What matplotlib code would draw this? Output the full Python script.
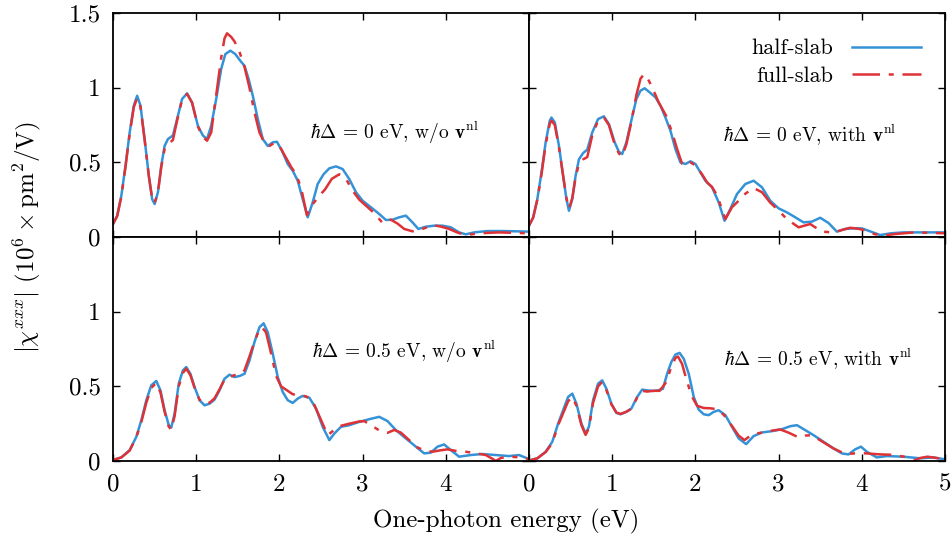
import numpy as np
import matplotlib
matplotlib.use('Agg')
import matplotlib.pyplot as plt
from matplotlib.ticker import FormatStrFormatter

plt.rcParams['font.family'] = 'cmr10'
plt.rcParams['mathtext.fontset'] = 'cm'
plt.rcParams['axes.formatter.use_mathtext'] = True

BLUE = '#3592d6'
RED = '#de3236'

# top-left: hbar Delta = 0 eV, w/o v^nl
tl_half_x = [0, 0.05, 0.1, 0.15, 0.2, 0.25, 0.29, 0.33, 0.38, 0.43, 0.47, 0.5, 0.54, 0.58, 0.62, 0.66, 0.72, 0.77, 0.83, 0.89, 0.95, 1.02, 1.08, 1.13, 1.18, 1.24, 1.3, 1.35, 1.41, 1.47, 1.53, 1.58, 1.63, 1.68, 1.74, 1.8, 1.86, 1.92, 1.97, 2.03, 2.1, 2.16, 2.22, 2.28, 2.34, 2.4, 2.46, 2.53, 2.6, 2.68, 2.76, 2.84, 2.92, 3.0, 3.1, 3.2, 3.28, 3.36, 3.44, 3.52, 3.6, 3.67, 3.76, 3.86, 3.96, 4.06, 4.16, 4.24, 4.34, 4.5, 4.7, 5.0]
tl_half_y = [0.087, 0.143, 0.277, 0.478, 0.70, 0.88, 0.946, 0.88, 0.656, 0.41, 0.254, 0.221, 0.30, 0.478, 0.61, 0.656, 0.68, 0.79, 0.924, 0.962, 0.90, 0.745, 0.68, 0.656, 0.745, 0.924, 1.125, 1.225, 1.248, 1.225, 1.18, 1.147, 1.058, 0.946, 0.79, 0.656, 0.61, 0.634, 0.638, 0.578, 0.489, 0.444, 0.377, 0.254, 0.132, 0.232, 0.355, 0.42, 0.46, 0.473, 0.455, 0.388, 0.30, 0.243, 0.199, 0.154, 0.114, 0.116, 0.132, 0.143, 0.098, 0.054, 0.069, 0.076, 0.076, 0.065, 0.031, 0.018, 0.031, 0.04, 0.04, 0.036]
tl_full_x = [0, 0.05, 0.1, 0.15, 0.2, 0.25, 0.29, 0.33, 0.38, 0.43, 0.47, 0.5, 0.54, 0.58, 0.62, 0.66, 0.72, 0.77, 0.83, 0.89, 0.95, 1.02, 1.08, 1.13, 1.18, 1.24, 1.3, 1.34, 1.37, 1.42, 1.46, 1.52, 1.58, 1.64, 1.7, 1.76, 1.82, 1.88, 1.94, 2.0, 2.08, 2.14, 2.2, 2.26, 2.33, 2.4, 2.47, 2.55, 2.63, 2.72, 2.8, 2.88, 2.96, 3.04, 3.14, 3.24, 3.34, 3.42, 3.5, 3.6, 3.7, 3.84, 3.94, 4.04, 4.14, 4.24, 4.4, 4.64, 5.0]
tl_full_y = [0.087, 0.14, 0.27, 0.47, 0.69, 0.87, 0.93, 0.87, 0.65, 0.41, 0.26, 0.228, 0.30, 0.47, 0.59, 0.62, 0.65, 0.78, 0.92, 0.958, 0.90, 0.74, 0.67, 0.645, 0.70, 0.95, 1.2, 1.33, 1.364, 1.34, 1.31, 1.24, 1.14, 1.0, 0.835, 0.70, 0.63, 0.61, 0.63, 0.61, 0.53, 0.47, 0.42, 0.33, 0.147, 0.22, 0.27, 0.32, 0.39, 0.42, 0.39, 0.31, 0.25, 0.21, 0.16, 0.094, 0.116, 0.09, 0.054, 0.038, 0.05, 0.08, 0.07, 0.054, 0.03, 0.013, 0.025, 0.031, 0.025]

# top-right: hbar Delta = 0 eV, with v^nl
tr_half_x = [0, 0.05, 0.1, 0.15, 0.2, 0.25, 0.27, 0.31, 0.36, 0.41, 0.45, 0.48, 0.52, 0.56, 0.6, 0.65, 0.7, 0.76, 0.83, 0.9, 0.96, 1.03, 1.08, 1.12, 1.17, 1.23, 1.29, 1.34, 1.39, 1.45, 1.52, 1.58, 1.64, 1.7, 1.76, 1.82, 1.88, 1.94, 2.0, 2.06, 2.12, 2.2, 2.28, 2.35, 2.42, 2.5, 2.6, 2.7, 2.8, 2.9, 3.0, 3.1, 3.2, 3.3, 3.4, 3.5, 3.6, 3.7, 3.8, 3.9, 4.0, 4.1, 4.22, 4.35, 4.5, 4.75, 5.0]
tr_half_y = [0.076, 0.132, 0.254, 0.433, 0.634, 0.78, 0.80, 0.767, 0.61, 0.41, 0.254, 0.176, 0.254, 0.41, 0.52, 0.562, 0.585, 0.70, 0.79, 0.808, 0.757, 0.634, 0.571, 0.556, 0.634, 0.78, 0.924, 0.98, 0.996, 0.969, 0.935, 0.88, 0.80, 0.712, 0.589, 0.50, 0.489, 0.507, 0.489, 0.433, 0.377, 0.333, 0.232, 0.109, 0.188, 0.288, 0.355, 0.377, 0.333, 0.243, 0.192, 0.165, 0.132, 0.098, 0.103, 0.129, 0.094, 0.036, 0.054, 0.058, 0.058, 0.038, 0.013, 0.025, 0.031, 0.031, 0.031]
tr_full_x = [0, 0.05, 0.1, 0.15, 0.2, 0.25, 0.27, 0.31, 0.36, 0.41, 0.45, 0.48, 0.52, 0.56, 0.6, 0.65, 0.7, 0.76, 0.83, 0.9, 0.96, 1.03, 1.08, 1.12, 1.17, 1.23, 1.29, 1.34, 1.38, 1.42, 1.49, 1.56, 1.65, 1.72, 1.78, 1.84, 1.88, 1.94, 2.0, 2.08, 2.14, 2.2, 2.26, 2.36, 2.44, 2.5, 2.6, 2.7, 2.8, 2.9, 2.98, 3.1, 3.24, 3.38, 3.52, 3.66, 3.78, 3.86, 3.96, 4.06, 4.15, 4.25, 4.4, 4.63, 5.0]
tr_full_y = [0.076, 0.13, 0.25, 0.42, 0.62, 0.76, 0.78, 0.75, 0.60, 0.41, 0.26, 0.19, 0.26, 0.40, 0.49, 0.52, 0.535, 0.68, 0.78, 0.80, 0.75, 0.62, 0.56, 0.54, 0.62, 0.77, 0.95, 1.06, 1.09, 1.07, 0.99, 0.9, 0.81, 0.70, 0.59, 0.49, 0.48, 0.50, 0.48, 0.42, 0.366, 0.335, 0.28, 0.12, 0.2, 0.232, 0.29, 0.328, 0.3, 0.23, 0.188, 0.12, 0.065, 0.087, 0.036, 0.031, 0.05, 0.062, 0.055, 0.042, 0.02, 0.009, 0.02, 0.031, 0.025]

# bottom-left: hbar Delta = 0.5 eV, w/o v^nl
bl_half_x = [0, 0.1, 0.2, 0.28, 0.34, 0.4, 0.46, 0.52, 0.57, 0.62, 0.67, 0.7, 0.74, 0.79, 0.84, 0.88, 0.93, 0.98, 1.04, 1.1, 1.16, 1.22, 1.28, 1.34, 1.4, 1.46, 1.52, 1.58, 1.64, 1.7, 1.76, 1.81, 1.86, 1.92, 1.98, 2.04, 2.1, 2.16, 2.22, 2.28, 2.36, 2.44, 2.52, 2.6, 2.66, 2.74, 2.84, 2.96, 3.08, 3.2, 3.3, 3.4, 3.52, 3.64, 3.74, 3.82, 3.9, 3.98, 4.06, 4.16, 4.3, 4.44, 4.6, 4.76, 4.88, 5.0]
bl_half_y = [0.007, 0.024, 0.073, 0.162, 0.273, 0.407, 0.507, 0.536, 0.473, 0.34, 0.24, 0.224, 0.318, 0.518, 0.607, 0.629, 0.584, 0.496, 0.407, 0.373, 0.384, 0.411, 0.473, 0.551, 0.578, 0.562, 0.569, 0.584, 0.673, 0.796, 0.896, 0.922, 0.862, 0.718, 0.562, 0.462, 0.407, 0.389, 0.418, 0.436, 0.424, 0.351, 0.229, 0.14, 0.184, 0.229, 0.24, 0.262, 0.28, 0.296, 0.267, 0.207, 0.151, 0.096, 0.051, 0.056, 0.096, 0.111, 0.073, 0.029, 0.04, 0.047, 0.04, 0.033, 0.04, 0.013]
bl_full_x = [0, 0.1, 0.2, 0.28, 0.34, 0.4, 0.46, 0.52, 0.57, 0.62, 0.67, 0.7, 0.74, 0.79, 0.84, 0.88, 0.93, 0.98, 1.04, 1.1, 1.16, 1.22, 1.28, 1.34, 1.4, 1.46, 1.52, 1.58, 1.64, 1.7, 1.75, 1.79, 1.84, 1.9, 1.96, 2.02, 2.1, 2.16, 2.24, 2.32, 2.4, 2.48, 2.58, 2.64, 2.72, 2.84, 2.96, 3.02, 3.1, 3.2, 3.3, 3.38, 3.46, 3.56, 3.64, 3.74, 3.84, 3.94, 4.02, 4.12, 4.24, 4.36, 4.48, 4.56, 4.6, 4.66, 4.76, 4.88, 5.0]
bl_full_y = [0.007, 0.024, 0.07, 0.16, 0.26, 0.39, 0.49, 0.522, 0.46, 0.33, 0.23, 0.21, 0.30, 0.5, 0.59, 0.618, 0.575, 0.49, 0.41, 0.383, 0.39, 0.42, 0.48, 0.545, 0.562, 0.575, 0.58, 0.607, 0.70, 0.80, 0.87, 0.896, 0.86, 0.72, 0.57, 0.50, 0.47, 0.447, 0.44, 0.433, 0.40, 0.3, 0.173, 0.2, 0.233, 0.25, 0.265, 0.267, 0.24, 0.205, 0.189, 0.208, 0.19, 0.14, 0.096, 0.07, 0.062, 0.072, 0.078, 0.068, 0.062, 0.052, 0.04, 0.015, 0.0, 0.02, 0.029, 0.025, 0.013]

# bottom-right: hbar Delta = 0.5 eV, with v^nl
br_half_x = [0, 0.1, 0.2, 0.28, 0.35, 0.41, 0.47, 0.52, 0.57, 0.63, 0.68, 0.72, 0.77, 0.83, 0.88, 0.93, 0.99, 1.05, 1.1, 1.17, 1.23, 1.3, 1.36, 1.42, 1.49, 1.55, 1.61, 1.66, 1.71, 1.76, 1.81, 1.86, 1.92, 1.98, 2.04, 2.1, 2.16, 2.22, 2.28, 2.36, 2.44, 2.52, 2.61, 2.7, 2.8, 2.92, 3.04, 3.14, 3.22, 3.32, 3.42, 3.54, 3.66, 3.76, 3.84, 3.92, 3.99, 4.06, 4.18, 4.3, 4.5, 4.7, 4.86, 5.0]
br_half_y = [0.003, 0.018, 0.062, 0.129, 0.251, 0.34, 0.429, 0.451, 0.384, 0.251, 0.184, 0.229, 0.407, 0.518, 0.54, 0.484, 0.384, 0.322, 0.313, 0.329, 0.351, 0.429, 0.478, 0.473, 0.469, 0.473, 0.484, 0.584, 0.662, 0.713, 0.724, 0.684, 0.584, 0.429, 0.344, 0.313, 0.307, 0.329, 0.34, 0.307, 0.229, 0.151, 0.113, 0.167, 0.191, 0.2, 0.213, 0.233, 0.24, 0.207, 0.173, 0.129, 0.084, 0.051, 0.044, 0.078, 0.096, 0.062, 0.024, 0.033, 0.029, 0.018, 0.024, 0.011]
br_full_x = [0, 0.1, 0.2, 0.28, 0.35, 0.41, 0.47, 0.52, 0.57, 0.63, 0.68, 0.72, 0.77, 0.83, 0.88, 0.93, 0.99, 1.05, 1.1, 1.17, 1.23, 1.3, 1.36, 1.42, 1.49, 1.57, 1.65, 1.71, 1.76, 1.79, 1.84, 1.9, 1.96, 2.02, 2.1, 2.18, 2.26, 2.34, 2.42, 2.52, 2.59, 2.66, 2.74, 2.88, 3.02, 3.12, 3.24, 3.32, 3.4, 3.54, 3.66, 3.76, 3.82, 3.94, 4.06, 4.2, 4.34, 4.5, 4.58, 4.62, 4.7, 4.79, 4.9, 5.0]
br_full_y = [0.003, 0.018, 0.06, 0.12, 0.24, 0.32, 0.40, 0.429, 0.37, 0.24, 0.175, 0.22, 0.39, 0.50, 0.53, 0.475, 0.38, 0.325, 0.315, 0.33, 0.35, 0.425, 0.47, 0.465, 0.47, 0.47, 0.529, 0.63, 0.69, 0.70, 0.65, 0.53, 0.43, 0.37, 0.355, 0.353, 0.347, 0.31, 0.25, 0.17, 0.14, 0.17, 0.184, 0.2, 0.211, 0.19, 0.158, 0.17, 0.173, 0.125, 0.084, 0.058, 0.047, 0.052, 0.051, 0.045, 0.042, 0.03, 0.01, 0.0, 0.02, 0.029, 0.02, 0.013]

labels = [r'$\hbar\Delta\,=\,0$ eV, w/o $\mathbf{v}^{\rm nl}$',
          r'$\hbar\Delta\,=\,0$ eV, with $\mathbf{v}^{\rm nl}$',
          r'$\hbar\Delta\,=\,0.5$ eV, w/o $\mathbf{v}^{\rm nl}$',
          r'$\hbar\Delta\,=\,0.5$ eV, with $\mathbf{v}^{\rm nl}$']
label_pos = [(2.37, 0.695), (2.33, 0.68), (2.39, 0.73), (2.34, 0.68)]

panels = [(tl_half_x, tl_half_y, tl_full_x, tl_full_y),
          (tr_half_x, tr_half_y, tr_full_x, tr_full_y),
          (bl_half_x, bl_half_y, bl_full_x, bl_full_y),
          (br_half_x, br_half_y, br_full_x, br_full_y)]

fig, axes = plt.subplots(2, 2, figsize=(9.53, 5.43), dpi=100, sharex=True, sharey=True)
fig.subplots_adjust(left=0.1186, right=0.9916, bottom=0.151, top=0.976, wspace=0, hspace=0)

for i, ax in enumerate(axes.flat):
    hx, hy, fx, fy = panels[i]
    ax.plot(hx, hy, color=BLUE, lw=1.8, label='half-slab')
    ax.plot(fx, fy, color=RED, lw=1.8, dashes=(11, 3.5, 2, 3.5), label='full-slab')
    ax.set_xlim(0, 5)
    ax.set_ylim(0, 1.5)
    ax.set_xticks([0, 1, 2, 3, 4, 5])
    ax.set_yticks([0, 0.5, 1, 1.5])
    ax.tick_params(direction='in', top=True, right=True, length=5, width=1, labelsize=18, pad=9)
    ax.yaxis.set_major_formatter(FormatStrFormatter('%g'))
    ax.xaxis.set_major_formatter(FormatStrFormatter('%g'))
    for s in ax.spines.values():
        s.set_linewidth(1.3)
    ax.text(label_pos[i][0], label_pos[i][1], labels[i], fontsize=14, va='center')

# hide the overlapping tick labels
axes[1, 0].get_xticklabels()[-1].set_visible(False)
axes[1, 0].get_yticklabels()[-1].set_visible(False)

axes[0, 1].legend(loc='upper right', frameon=False, fontsize=16, markerfirst=False,
                  handlelength=3.1, handletextpad=0.85, labelspacing=0.35,
                  borderaxespad=0, borderpad=0, bbox_to_anchor=(0.942, 0.885))

fig.text(0.028, 0.5635, r'$|\chi^{xxx}|$ $(10^6\times\mathrm{pm}^2/\mathrm{V})$', rotation=90,
         ha='center', va='center', fontsize=18)
fig.text(0.531, 0.039, 'One-photon energy (eV)', ha='center', va='center', fontsize=18)

fig.savefig('out.png', dpi=100)
